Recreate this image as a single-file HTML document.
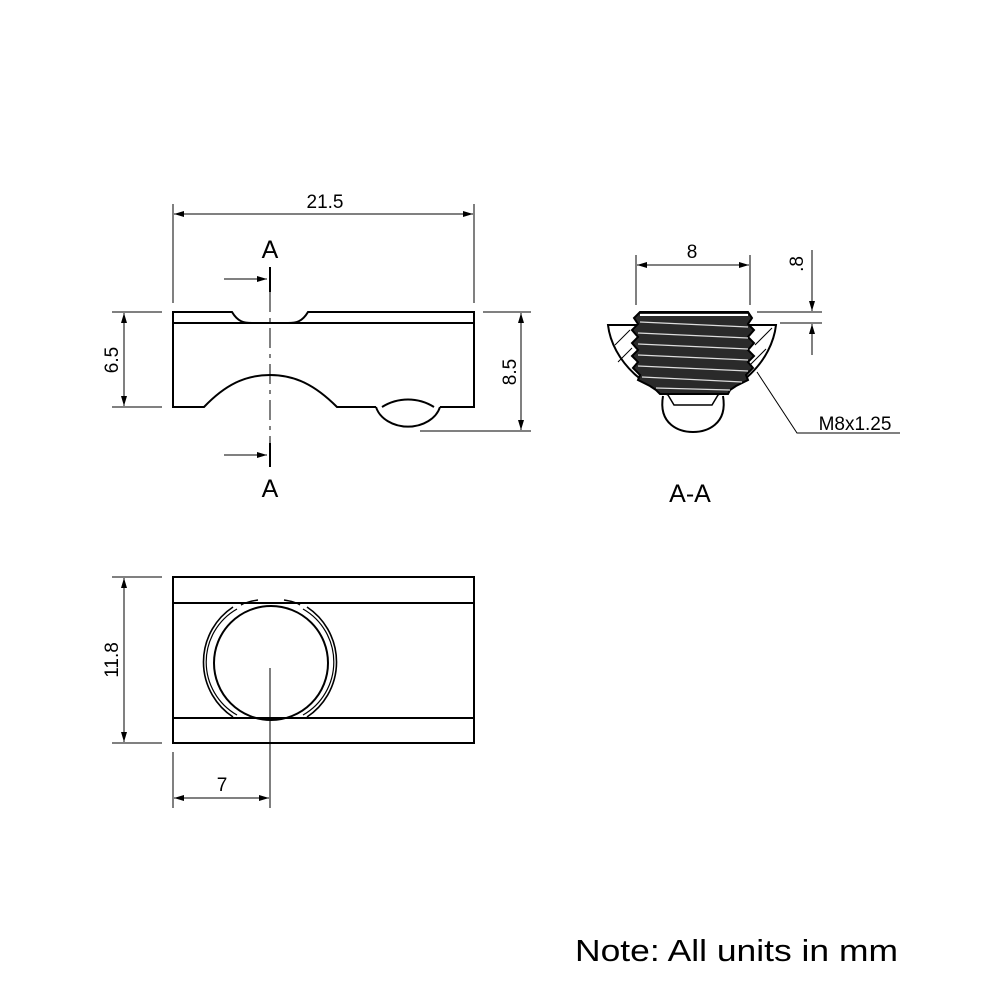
<!DOCTYPE html>
<html><head><meta charset="utf-8"><style>
html,body{margin:0;padding:0;background:#fff}
svg{display:block}
text{font-family:"Liberation Sans",Arial,sans-serif;fill:#000}
</style></head><body>
<svg width="1000" height="1000" viewBox="0 0 1000 1000" xmlns="http://www.w3.org/2000/svg">
<defs>
<marker id="ar" viewBox="0 0 10 6" refX="10" refY="3" markerWidth="10" markerHeight="6" orient="auto-start-reverse" markerUnits="userSpaceOnUse">
<path d="M0,0 L10,3 L0,6 z" fill="#000"/></marker>
</defs>
<g fill="none" stroke="#000" stroke-width="1">
<line x1="173" y1="204" x2="173" y2="303"/>
<line x1="474" y1="204" x2="474" y2="303"/>
<line x1="174" y1="214" x2="473" y2="214" marker-start="url(#ar)" marker-end="url(#ar)"/>
<line x1="112" y1="312" x2="162" y2="312"/>
<line x1="112" y1="407" x2="162" y2="407"/>
<line x1="124" y1="313" x2="124" y2="406" marker-start="url(#ar)" marker-end="url(#ar)"/>
<line x1="483" y1="312" x2="531" y2="312"/>
<line x1="420" y1="431" x2="531" y2="431"/>
<line x1="521" y1="313" x2="521" y2="430" marker-start="url(#ar)" marker-end="url(#ar)"/>
<line x1="224" y1="279" x2="267" y2="279" marker-end="url(#ar)"/>
<line x1="224" y1="455" x2="267" y2="455" marker-end="url(#ar)"/>
<line x1="270" y1="267" x2="270" y2="292" stroke-width="2"/>
<line x1="270" y1="443" x2="270" y2="467" stroke-width="2"/>
<line x1="270" y1="292" x2="270" y2="443" stroke-dasharray="20,6,4,6"/>
</g>
<g fill="none" stroke="#000" stroke-width="2">
<path d="M173,323 V312 H232 C238,322 244,323 252,323"/>
<path d="M288,323 C296,323 302,322 308,312 H474 V407 H440"/>
<path d="M376,407 H337 C315,385 295,375 270,375 C245,375 225,385 204,407 H173 V323"/>
<line x1="173" y1="323" x2="474" y2="323"/>
<path d="M376,407 A33,26 0 0 0 440,407"/>
<path d="M382,407 C398,397 418,397 434,407"/>
</g>
<text x="325" y="208" font-size="19" text-anchor="middle">21.5</text>
<text x="270" y="258" font-size="25" text-anchor="middle">A</text>
<text x="270" y="497" font-size="25" text-anchor="middle">A</text>
<text x="0" y="0" font-size="19" text-anchor="middle" transform="translate(118,360) rotate(-90)">6.5</text>
<text x="0" y="0" font-size="19" text-anchor="middle" transform="translate(516,372) rotate(-90)">8.5</text>

<g fill="none" stroke="#000" stroke-width="1">
<line x1="636" y1="255" x2="636" y2="305"/>
<line x1="750" y1="255" x2="750" y2="305"/>
<line x1="637" y1="265" x2="749" y2="265" marker-start="url(#ar)" marker-end="url(#ar)"/>
<line x1="757" y1="312" x2="822" y2="312"/>
<line x1="780" y1="323" x2="822" y2="323"/>
<line x1="812" y1="250" x2="812" y2="311" marker-end="url(#ar)"/>
<line x1="812" y1="355" x2="812" y2="324" marker-end="url(#ar)"/>
<polyline points="757,372 797,433 900,433"/>
<line x1="615" y1="345" x2="630" y2="330"/>
<line x1="618" y1="362" x2="632" y2="348"/>
<line x1="755" y1="345" x2="772" y2="328"/>
<line x1="748" y1="367" x2="766" y2="349"/>
</g>
<path d="M663,396 C658,425 680,432 693,432 C706,432 728,425 723,396" fill="#fff" stroke="#000" stroke-width="2"/>
<path d="M608,325 L776,325 C772,360 740,395 693,401 C646,395 612,360 608,325 Z" fill="none" stroke="#000" stroke-width="2"/>
<path d="M640,312 H748 L752,318 L748,324 L754,330 L748,337 L754,343 L748,350 L754,356 L748,362 L753,368 L746,375 L748,380 L736,386 L730,390 L728,394 H660 L656,390 L650,386 L638,380 L640,375 L633,368 L638,362 L632,356 L638,350 L632,343 L638,337 L632,330 L638,324 L634,318 Z" fill="#2a2a2a" stroke="#000" stroke-width="2"/>
<path d="M668,395 L674,405 H712 L718,395" fill="#fff" stroke="#000" stroke-width="1.5"/>
<line x1="640" y1="315" x2="748" y2="315" stroke="#fff" stroke-width="2"/>
<g stroke="#ddd" stroke-width="1.2">
<line x1="640" y1="322" x2="748" y2="327"/>
<line x1="638" y1="333" x2="748" y2="338"/>
<line x1="638" y1="344" x2="748" y2="349"/>
<line x1="638" y1="355" x2="748" y2="360"/>
<line x1="638" y1="366" x2="748" y2="371"/>
<line x1="642" y1="377" x2="742" y2="382"/>
<line x1="656" y1="388" x2="730" y2="390"/>
</g>
<text x="855" y="430" font-size="19" text-anchor="middle">M8x1.25</text>
<text x="692" y="258" font-size="19" text-anchor="middle">8</text>
<text x="0" y="0" font-size="19" text-anchor="middle" transform="translate(803,264) rotate(-90)">.8</text>
<text x="690" y="502" font-size="25" text-anchor="middle">A-A</text>

<g fill="none" stroke="#000" stroke-width="1">
<line x1="112" y1="577" x2="162" y2="577"/>
<line x1="112" y1="743" x2="162" y2="743"/>
<line x1="124" y1="578" x2="124" y2="742" marker-start="url(#ar)" marker-end="url(#ar)"/>
<line x1="173" y1="752" x2="173" y2="808"/>
<line x1="270" y1="668" x2="270" y2="808"/>
<line x1="174" y1="798" x2="269" y2="798" marker-start="url(#ar)" marker-end="url(#ar)"/>
</g>
<g fill="none" stroke="#000" stroke-width="2">
<rect x="173" y="577" width="301" height="166"/>
<line x1="173" y1="603" x2="474" y2="603"/>
<line x1="173" y1="718" x2="474" y2="718"/>
<circle cx="271" cy="663" r="57"/>
<path d="M233,607 A66,66 0 0 0 233,717" stroke-width="1.6"/>
<path d="M237,609 A61,61 0 0 0 237,715" stroke-width="1.2"/>
<path d="M307,607 A66,66 0 0 1 307,717" stroke-width="1.6"/>
<path d="M303,609 A61,61 0 0 1 303,715" stroke-width="1.2"/>
<path d="M241,605 C246,602 252,601 258,600 M284,600 C290,601 296,602 300,605" stroke-width="1.4"/>
</g>
<text x="0" y="0" font-size="19" text-anchor="middle" transform="translate(118,660) rotate(-90)">11.8</text>
<text x="222" y="791" font-size="19" text-anchor="middle">7</text>

<text x="575" y="961" font-size="31" textLength="323" lengthAdjust="spacingAndGlyphs">Note: All units in mm</text>
</svg>
</body></html>
